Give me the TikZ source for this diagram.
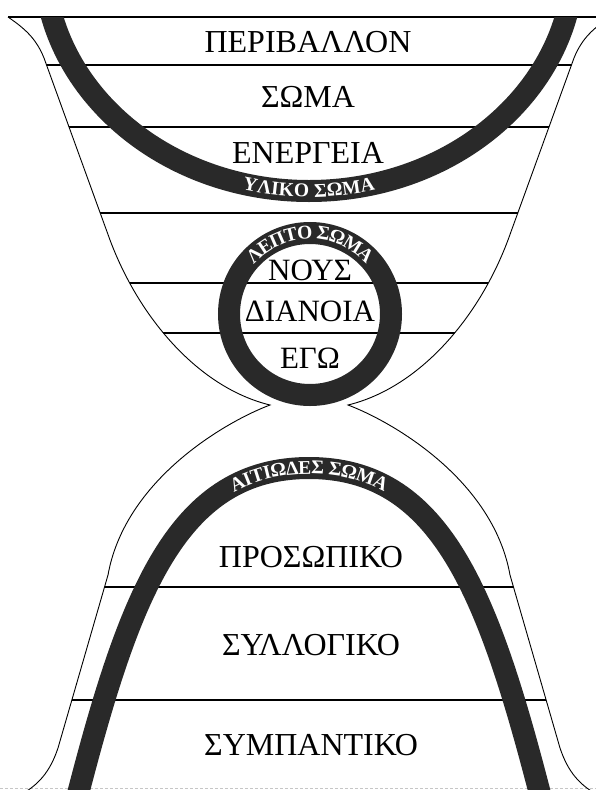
\documentclass[tikz,border=0pt]{standalone}
\usepackage{fontspec}
\setmainfont{Liberation Serif}
\usetikzlibrary{decorations.text}
\definecolor{bandgray}{gray}{0.16}
\newcommand\bandfont{\fontsize{19.5}{19.5}\selectfont\bfseries}

\begin{document}
\begin{tikzpicture}[x=1pt,y=-1pt,outline/.style={line width=0.9pt},layer/.style={line width=1.2pt},band/.style={line width=22pt,draw=bandgray},level/.style={inner sep=0pt,font=\fontsize{32}{34}\selectfont},inner/.style={level,font=\fontsize{31}{33}\selectfont},bandtext/.style={decorate,decoration={text along path,text={#1},text color=white,text align=center,raise=-6pt}}]
\clip (0,0) rectangle (596,790);
% layers of the upper chamber
\begin{scope}
\clip (8,17) .. controls (24,28) and (36,38) .. (44,58) -- (110,240) .. controls (140,320) and (200,388) .. (270,405) -- (348,405) .. controls (418,388) and (478,320) .. (508,240) -- (574,58) .. controls (582,38) and (594,28) .. (610,17) -- cycle;
\foreach \y in {65,127,213,283,333}{\draw[layer] (0,\y)--(620,\y);}
\end{scope}
% layers of the lower chamber
\begin{scope}
\clip (270,405) .. controls (225,422) and (125,480) .. (108,575) -- (58,748) .. controls (50,772) and (38,786) .. (18,796) -- (600,796) .. controls (580,786) and (568,772) .. (560,748) -- (510,575) .. controls (493,480) and (393,422) .. (348,405) -- cycle;
\foreach \y in {587,700}{\draw[layer] (0,\y)--(620,\y);}
\end{scope}
\draw[layer] (8,17)--(596,17);
\draw[gray!45,line width=0.8pt,dash pattern=on 3pt off 2pt] (0,788)--(596,788);
% hourglass
\draw[outline] (8,17) .. controls (24,28) and (36,38) .. (44,58) -- (110,240) .. controls (140,320) and (200,388) .. (270,405) .. controls (225,422) and (125,480) .. (108,575) -- (58,748) .. controls (50,772) and (38,786) .. (18,796);
\draw[outline] (610,17) .. controls (594,28) and (582,38) .. (574,58) -- (508,240) .. controls (478,320) and (418,388) .. (348,405) .. controls (393,422) and (493,480) .. (510,575) -- (560,748) .. controls (568,772) and (580,786) .. (600,796);
% bodies
\begin{scope}
\clip (0,17) rectangle (620,800);
\draw[band] (309,-40) ellipse [x radius=265,y radius=231];
\end{scope}
\draw[band] (310,314) circle [radius=81];
\draw[band] (76,802) -- (79,790) .. controls (131,590) and (179,468) .. (309,468) .. controls (439,468) and (487,590) .. (539,790) -- (542,802);
\path[bandtext={|\bandfont|ΥΛΙΚΟ ΣΩΜΑ}] (309,-40) ++(120:265 and 231) arc [start angle=120,end angle=60,x radius=265,y radius=231];
\path[bandtext={|\bandfont|ΛΕΠΤΟ ΣΩΜΑ}] (310,314) ++(210:81) arc [start angle=210,end angle=330,radius=81];
\path[bandtext={|\bandfont|ΑΙΤΙΩΔΕΣ ΣΩΜΑ}] (79,790) .. controls (131,590) and (179,468) .. (309,468) .. controls (439,468) and (487,590) .. (539,790);
% levels
\node[level] (perivallon) at (308,42) {ΠΕΡΙΒΑΛΛΟΝ};
\node[level] (soma) at (308,97) {ΣΩΜΑ};
\node[level] (energeia) at (308,153) {ΕΝΕΡΓΕΙΑ};
\node[inner] (nous) at (310,270) {ΝΟΥΣ};
\node[inner] (dianoia) at (310,311) {ΔΙΑΝΟΙΑ};
\node[inner] (ego) at (310,358) {ΕΓΩ};
\node[level] (prosopiko) at (311,557) {ΠΡΟΣΩΠΙΚΟ};
\node[level] (syllogiko) at (311,645) {ΣΥΛΛΟΓΙΚΟ};
\node[level] (sympantiko) at (311,745) {ΣΥΜΠΑΝΤΙΚΟ};
\end{tikzpicture}
\end{document}
